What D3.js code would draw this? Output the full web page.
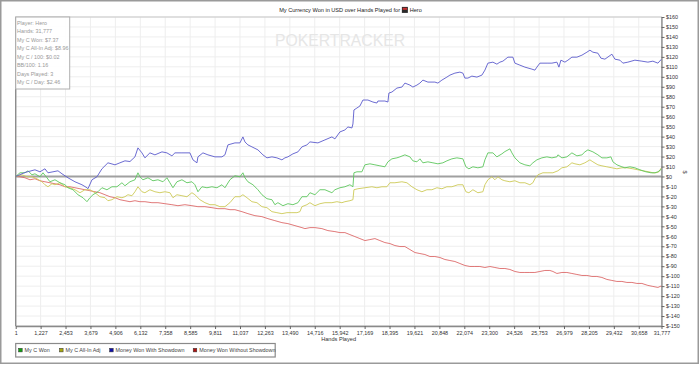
<!DOCTYPE html>
<html><head><meta charset="utf-8">
<script src="https://cdn.jsdelivr.net/npm/d3@7"></script>
<style>
html,body{margin:0;padding:0;background:#fff;}
svg{display:block;font-family:"Liberation Sans",Arial,sans-serif;}
</style></head>
<body>
<svg id="chart" width="700" height="365"></svg>
<script>
// ---------- data ----------
const xTickLabels = [1,1227,2453,3679,4906,6132,7358,8585,9811,11037,12263,13490,14716,15942,17169,18395,19621,20848,22074,23300,24526,25753,26979,28205,29432,30658,31777];
const yTickValues = [-150,-140,-130,-120,-110,-100,-90,-80,-70,-60,-50,-40,-30,-20,-10,0,10,20,30,40,50,60,70,80,90,100,110,120,130,140,150,160];

const seriesNames = ["My C Won","My C All-In Adj","Money Won With Showdown","Money Won Without Showdown"];

const blueHands = [1,457,949,1195,1441,1589,1835,2081,2278,2573,2917,3261,3507,3557,3753,3999,4245,4540,4885,5131,5377,5623,5869,6016,6213,6360,6606,6852,7197,7442,7688,7836,8181,8574,8722,8919,8968,9214,9460,9804,10149,10296,10444,10788,11034,11182,11280,11428,11625,11920,12166,12363,12609,12854,13100,13248,13396,13642,13888,14085,14331,14478,14872,15216,15560,15708,15954,16200,16348,16544,16594,16643,16790,16938,17086,17331,17577,17774,17823,18168,18315,18364,18512,18758,19004,19152,19398,19545,19742,19890,20037,20283,20628,20775,20972,21218,21366,21612,21858,22005,22104,22251,22448,22694,22940,23088,23235,23481,23678,23826,23973,24219,24465,24564,24810,25056,25400,25548,25646,25794,26188,26384,26631,26729,26828,27025,27172,27369,27615,27861,28107,28255,28402,28648,28796,28993,29337,29485,29731,29878,30124,30469,30813,31108,31354,31600,31777];
const blueValues = [0,4,6.7,4.7,7.7,3.7,4.7,5.7,2.7,-1.3,-5.3,-8.3,-11.3,-12.3,-3.3,-0.3,7.7,13.7,11.7,13.7,15.7,15,19.7,28.7,23.7,18.7,23.7,21.7,24.7,23.7,20.7,23.7,23.7,23.7,16.7,13.7,19.7,23.7,21.7,19.7,19.7,21.7,31.7,33.7,33.7,39.7,34.7,31.7,29.7,26.7,21.7,18.7,19.7,18.7,16.7,18.7,19.7,22.7,24.7,29.7,31.7,34.7,33.7,36.7,39.7,37.7,44.7,46.7,49.7,48.7,52.7,66.7,68.7,70.7,76.7,76.7,74.7,73.7,75.7,75.7,74.7,83.7,84.7,88.7,89.7,93.7,91.7,89.7,91.7,93.7,96.7,94.7,94.7,93.7,96.7,99.7,101.7,103.7,104.7,103.7,98.7,98.7,100.7,99.7,101.7,106.7,113.7,114.7,112.7,114.7,115.7,119.7,119.7,113.7,111.7,109.7,107.7,106.7,109.7,113.7,113.7,113.7,114.7,109.7,116.7,114.7,116.7,119.7,119.7,121.7,124.7,126.7,124.7,123.7,118.7,117.7,122.7,117.7,116.7,113.7,114.7,116.7,115.7,114.7,115.7,113.7,117.7];

const greenHands = [1,212,457,605,802,949,1195,1343,1540,1687,1933,2179,2425,2573,2819,3065,3311,3507,3655,3803,4048,4245,4491,4737,4983,5229,5377,5623,5869,6016,6114,6262,6508,6754,7000,7246,7442,7590,7738,7934,8181,8427,8673,8820,8968,9165,9411,9657,9903,10149,10296,10542,10788,11034,11182,11280,11428,11674,11920,12117,12363,12609,12755,12903,13150,13396,13642,13888,14085,14331,14478,14724,14970,15216,15560,15708,15954,16200,16446,16594,16643,16790,17036,17184,17430,17676,17922,18168,18315,18512,18758,18906,19152,19398,19545,19742,19890,20037,20283,20530,20775,21021,21218,21464,21710,22005,22153,22300,22497,22743,22989,23088,23235,23481,23678,23924,24072,24318,24416,24564,24810,25056,25301,25449,25646,25892,26138,26384,26631,26680,26877,27123,27369,27615,27861,28009,28156,28402,28648,28845,29091,29288,29386,29583,29829,29977,30223,30469,30715,31010,31256,31452,31600,31777];
const greenValues = [0,3.7,3.7,5.7,1.7,2.7,-0.3,3.7,-1.3,-5.3,-3.3,-6.3,-8.3,-11.3,-13.3,-18.3,-21.3,-25.3,-21.3,-18.3,-15.3,-11.3,-13.3,-10.3,-10.3,-6.3,-9.3,-5.3,-3.3,3.7,-0.3,-3.3,-1.3,-4.3,-3.3,-5.3,-1.3,-6.3,-11.3,-5.3,-3.3,-6.3,-5.3,-8.3,-15.3,-10.3,-11.3,-10.3,-11.3,-8.3,-11.3,-3.3,0.7,-0.3,3.7,-1.3,-5.3,-8.3,-13.3,-18.3,-22.3,-23.3,-28.3,-26.3,-29.3,-27.3,-28.3,-26.3,-20.3,-20.3,-16.3,-18.3,-13.3,-13.3,-16.3,-13.3,-11.3,-10.3,-8.3,-10.3,3.7,4.7,4.7,11.7,12.7,11.7,10.7,9.7,14.7,17.7,18.7,19.7,21.7,19.7,15.7,14.7,17.7,13.7,14.7,13.7,12.7,13.7,15.7,17.7,18.7,17.7,9.7,7.7,9.7,8.7,9.7,16.7,23.7,23.7,19.7,22.7,25,27.7,23.7,18.7,13.7,11.7,10.7,13.7,16.7,18.7,19.7,18.7,19.7,21.7,18.7,19.7,23.7,20.7,21.7,24.7,26.7,24.7,21.7,18.7,18.7,19.7,14.7,11.7,9.7,8.7,9.7,8.7,6.7,4.7,3.7,3.7,4.7,7.4];

const yellowHands = [1,310,556,802,1048,1294,1441,1589,1786,1933,2179,2425,2671,2917,3163,3409,3655,3901,4147,4393,4540,4737,4983,5229,5377,5524,5721,5869,6016,6213,6360,6606,6852,7098,7344,7590,7738,7934,8181,8427,8673,8820,9066,9312,9558,9804,10050,10296,10542,10788,11034,11182,11379,11625,11871,12117,12363,12609,12854,13100,13347,13593,13839,13986,14085,14331,14478,14724,14970,15216,15560,15806,16052,16200,16446,16594,16643,16840,17184,17528,17774,18020,18266,18414,18660,19004,19250,19496,19742,19988,20234,20480,20726,20972,21218,21464,21759,22005,22153,22300,22497,22743,22989,23088,23235,23432,23580,23727,23924,24072,24318,24564,24810,25056,25301,25449,25548,25695,25942,26188,26434,26680,26877,27123,27369,27517,27763,28009,28255,28402,28648,28845,29091,29337,29583,29829,30075,30370,30616,30862,31157,31354,31502,31649,31777];
const yellowValues = [0,1.7,-0.3,-0.3,-2.3,-5.3,-8.3,-10.3,-7.3,-8.3,-6.3,-10.3,-11.3,-13.3,-16.3,-13.3,-13.3,-16.3,-20.3,-21.3,-24.3,-23.3,-20.3,-21.3,-20.3,-18.3,-19.3,-15.3,-10.3,-15.3,-16.3,-13.3,-15.3,-16.3,-15.3,-16.3,-21.3,-18.3,-19.3,-20.3,-16.3,-18.3,-23.3,-26.3,-28.3,-28.3,-30.3,-30.3,-26.3,-20.3,-20.3,-18.3,-21.3,-25.3,-26.3,-30.3,-31.3,-35.3,-36.3,-37.3,-36.3,-36.3,-36.3,-35.3,-30.3,-28.3,-26.3,-29.3,-27.3,-26.3,-26.3,-25.3,-26.3,-25.3,-24.3,-23.3,-13.3,-12.3,-11.3,-10.3,-11.3,-10.3,-10.3,-6.3,-6.3,-5.3,-6.3,-10.3,-13.3,-15.3,-13.3,-13.3,-11.3,-12.3,-10.3,-10.3,-8.3,-8.3,-15.3,-16.3,-13.3,-16.3,-15.3,-8.3,-3.3,-0.3,-3.3,-0.3,-3.3,-4.3,-5.3,-4.3,-6.3,-6.3,-8.3,-6.3,-2.3,1.7,3.7,3.7,3.7,5.7,8.7,9.7,13.7,12.7,11.7,13.7,16.7,14.7,11.7,10.7,9.7,8.7,7.7,8.7,8.7,7.7,6.7,5.7,4.7,3.7,3.7,4.7,8.96];

const redHands = [1,212,457,703,949,1195,1441,1687,1933,2179,2425,2671,2917,3163,3409,3655,3901,4147,4393,4639,4885,5131,5377,5623,5869,6114,6360,6705,7000,7344,7688,7984,8328,8673,8968,9312,9657,9952,10296,10542,10788,11133,11428,11772,12117,12412,12755,13100,13396,13740,14085,14232,14478,14724,15068,15363,15708,15954,16200,16446,16692,16938,17184,17430,17676,17922,18168,18414,18660,18906,19152,19398,19644,19890,20136,20382,20628,20874,21120,21366,21612,21858,22104,22350,22596,22842,23088,23334,23580,23826,24072,24318,24564,24810,25056,25301,25548,25794,26040,26286,26434,26631,26877,27123,27369,27615,27861,28107,28353,28599,28845,29091,29337,29583,29829,30075,30321,30567,30813,31108,31354,31600,31777];
const redValues = [0,-0.3,-1.3,-3.3,-2.3,-4.3,-5.3,-6.3,-7.3,-8.3,-10.3,-10.3,-11.3,-12.3,-13.3,-14.3,-15.3,-16.3,-18.3,-20.3,-21.3,-23.3,-24.3,-25.3,-24.3,-25.3,-25.3,-26.3,-26.3,-27.3,-28.3,-29.3,-28.3,-29.3,-30.3,-30.3,-31.3,-32.3,-32.3,-33.3,-33.3,-35.3,-37.3,-39.3,-40.3,-42.3,-44.3,-46.3,-47.3,-49.3,-51.3,-52.3,-51.3,-51.3,-52.3,-54.3,-55.3,-56.3,-56.3,-58.3,-60.3,-62.3,-64.3,-63.3,-62.3,-64.3,-66.3,-67.3,-69.3,-70.3,-70.3,-73.3,-76.3,-77.3,-78.3,-80.3,-80.3,-81.3,-83.3,-84.3,-85.3,-87.3,-89.3,-90.3,-90.3,-90.3,-91.3,-90.3,-91.3,-92.3,-92.3,-93.3,-95.3,-96.3,-96.3,-96.3,-96.3,-95.3,-94.3,-94.3,-95.3,-97.3,-96.3,-96.3,-97.3,-98.3,-99.3,-99.3,-100.3,-100.3,-101.3,-103.3,-104.3,-105.3,-105.3,-106.3,-106.3,-107.3,-107.3,-109.3,-110.3,-111.3,-109.7];

const infoLines = ["Player: Hero","Hands: 31,777","My C Won: $7.37","My C All-In Adj: $8.96","My C / 100: $0.02","BB/100: 1.16","Days Played: 3","My C / Day: $2.46"];

// ---------- chart ----------
const svg = d3.select("#chart");
const L = 15.7, R = 661.5, T = 17, B = 326;
const x = d3.scaleLinear().domain([1, 31777]).range([L, R]);
const y = d3.scaleLinear().domain([-150, 160]).range([B, T]);

// outer frame
svg.append("rect").attr("x",0.75).attr("y",0.75).attr("width",697.5).attr("height",362.5)
  .attr("fill","#fff").attr("stroke","#9a9a9a").attr("stroke-width",1.5);

// title (text + icon + player name), laid out from measured widths
const tg = svg.append("g");
const t1 = tg.append("text").attr("y",12).attr("font-size",5.6).attr("fill","#222")
  .text("My Currency Won in USD over Hands Played for");
const t2 = tg.append("text").attr("y",12).attr("font-size",5.6).attr("fill","#222").text("Hero");
const w1 = t1.node().getComputedTextLength(), w2 = t2.node().getComputedTextLength();
const iconW = 6, gap = 1.8;
const total = w1 + gap + iconW + gap + w2;
const x0 = 350.5 - total/2;
t1.attr("x", x0);
const ix = x0 + w1 + gap;
tg.append("rect").attr("x",ix).attr("y",6.9).attr("width",iconW).attr("height",6).attr("fill","#2a2a2a");
tg.append("rect").attr("x",ix+0.8).attr("y",7.8).attr("width",iconW-1.6).attr("height",2).attr("fill","#c83030");
t2.attr("x", ix + iconW + gap);

// grid
const g = svg.append("g");
g.selectAll("line.vg").data(xTickLabels).join("line")
  .attr("x1",d=>x(d)).attr("x2",d=>x(d)).attr("y1",T).attr("y2",B)
  .attr("stroke","#eeeeee").attr("stroke-width",1);
g.selectAll("line.hg").data(yTickValues).join("line")
  .attr("x1",L).attr("x2",R).attr("y1",d=>y(d)).attr("y2",d=>y(d))
  .attr("stroke","#eeeeee").attr("stroke-width",1);

// plot border
svg.append("rect").attr("x",L).attr("y",T).attr("width",R-L).attr("height",B-T)
  .attr("fill","none").attr("stroke","#c8c8c8").attr("stroke-width",1);

// watermark
svg.append("text").attr("x",340).attr("y",46).attr("text-anchor","middle")
  .attr("font-size",17).attr("fill","#e6e6e6")
  .attr("textLength",130).attr("lengthAdjust","spacingAndGlyphs").text("POKERTRACKER");

// zero line
svg.append("line").attr("x1",L).attr("x2",R).attr("y1",y(0)).attr("y2",y(0))
  .attr("stroke","#a0a0a0").attr("stroke-width",1.8);

// series
const line = d3.line().x(d=>x(d[0])).y(d=>y(d[1]));
const series = [
  {h:redHands, v:redValues, c:"#dd6a6a"},
  {h:yellowHands, v:yellowValues, c:"#cdc957"},
  {h:greenHands, v:greenValues, c:"#5cc65c"},
  {h:blueHands, v:blueValues, c:"#5a5acc"}
];
series.forEach(s=>{
  svg.append("path").datum(d3.zip(s.h, s.v)).attr("d", line)
    .attr("fill","none").attr("stroke", s.c).attr("stroke-width",0.9).attr("stroke-linejoin","round");
});

// axes lines
svg.append("line").attr("x1",L).attr("x2",L).attr("y1",T).attr("y2",B).attr("stroke","#8a8a8a").attr("stroke-width",1.3);

const xAxis = d3.axisBottom(x).tickValues(xTickLabels).tickFormat(d3.format(",")).tickSize(3).tickSizeOuter(0);
const xa = svg.append("g").attr("transform",`translate(0,${B})`).call(xAxis);
xa.select(".domain").attr("stroke","#8a8a8a").attr("stroke-width",1.3);
xa.selectAll(".tick line").attr("stroke","#666");
xa.selectAll(".tick text").attr("font-size",5.4).attr("fill","#333").attr("font-family","Liberation Sans, Arial, sans-serif").attr("dy","0.55em");

const yAxis = d3.axisRight(y).tickValues(yTickValues).tickFormat(d=>"$"+d).tickSize(3).tickSizeOuter(0);
const ya = svg.append("g").attr("transform",`translate(${R},0)`).call(yAxis);
ya.select(".domain").attr("stroke","#8a8a8a").attr("stroke-width",1.3);
ya.selectAll(".tick line").attr("stroke","#666");
ya.selectAll(".tick text").attr("font-size",5.4).attr("fill","#333").attr("font-family","Liberation Sans, Arial, sans-serif").attr("x",4.5);

// axis titles
svg.append("text").attr("x",(L+R)/2).attr("y",340.5).attr("text-anchor","middle")
  .attr("font-size",5.6).attr("fill","#333").text("Hands Played");
svg.append("text").attr("transform","translate(683,172) rotate(90)").attr("text-anchor","middle")
  .attr("font-size",5.6).attr("fill","#333").text("$");

// info box
svg.append("rect").attr("x",L).attr("y",T).attr("width",54).attr("height",72)
  .attr("fill","#fff").attr("fill-opacity",0.9).attr("stroke","#b0b0b0").attr("stroke-width",1);
svg.selectAll("text.info").data(infoLines).join("text")
  .attr("x",17).attr("y",(d,i)=>24.6 + i*8.55)
  .attr("font-size",5.4).attr("fill","#999").text(d=>d);

// legend
svg.append("rect").attr("x",L).attr("y",343.5).attr("width",259.5).attr("height",13.5)
  .attr("fill","#fff").attr("stroke","#8a8a8a").attr("stroke-width",1.2);
const legColors = ["#10a010","#a8a810","#1010a8","#b01010"];
const legX = [18.6, 59.5, 109.6, 193.2];
seriesNames.forEach((n,i)=>{
  svg.append("rect").attr("x",legX[i]).attr("y",348.3).attr("width",3.6).attr("height",3.6)
    .attr("fill",legColors[i]).attr("stroke","#333").attr("stroke-width",0.5);
  svg.append("text").attr("x",legX[i]+6).attr("y",352).attr("font-size",5.4).attr("fill","#444").text(n);
});
</script>
</body></html>
